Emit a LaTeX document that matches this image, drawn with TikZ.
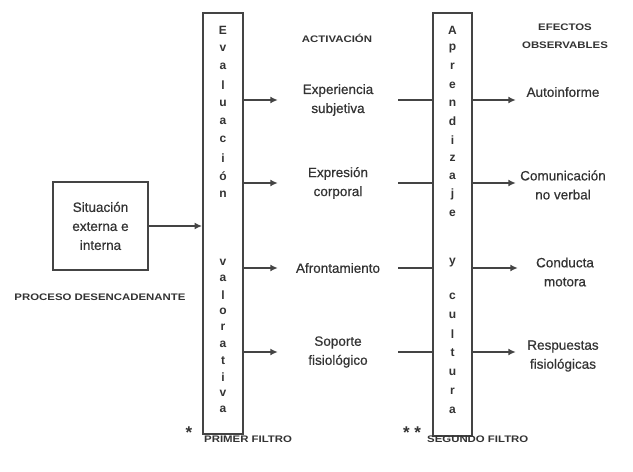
\documentclass[tikz,border=0pt]{standalone}
\usepackage{fontspec}
\setmainfont{Liberation Sans}
\newfontfamily\hdrfont[FakeStretch=1.2]{Liberation Sans}
\newfontfamily\lblfont[FakeBold=0.6]{Liberation Sans}
\usetikzlibrary{arrows.meta}
\definecolor{ink}{HTML}{333333}
\definecolor{edge}{HTML}{444444}
\begin{document}
\begin{tikzpicture}[x=1pt,y=-1pt,
  box/.style={draw=edge,line width=1.9pt,inner sep=0pt},
  lbl/.style={text=ink,font=\lblfont\fontsize{13.5}{19}\selectfont,align=center,inner sep=0pt},
  hdr/.style={text=ink,font=\hdrfont\bfseries\fontsize{9.5}{18}\selectfont,align=center,inner sep=0pt},
  vlet/.style={text=ink,font=\bfseries\fontsize{12}{12}\selectfont,inner sep=0pt},
  arr/.style={draw=edge,line width=1.8pt,-{Latex[length=7.5pt,width=7pt]}},
  ln/.style={draw=edge,line width=1.8pt}]
\useasboundingbox (0,0) rectangle (633,472);
% left box
\node[box,lbl,minimum width=95pt,minimum height=88pt] (sit) at (100.5,226) {Situación\\externa e\\interna};
\node[hdr] (proc) at (100,297) {PROCESO DESENCADENANTE};
% Evaluacion valorativa
\node[box,minimum width=40pt,minimum height=421pt] (eval) at (223,223.5) {};
\foreach \c [count=\i] in {E,v,a,l,u,a,c,i,ó,n}
  \node[vlet] at (223,{30+18.3*(\i-1)}) {\c};
\foreach \c [count=\i] in {v,a,l,o,r,a,t,i,v,a}
  \node[vlet] at (223,{262+16.4*(\i-1)}) {\c};
% Aprendizaje y cultura
\node[box,minimum width=39pt,minimum height=423pt] (apr) at (452.5,224.5) {};
\foreach \c [count=\i] in {A,p,r,e,n,d,i,z,a,j,e}
  \node[vlet] at (452.5,{30+18.3*(\i-1)}) {\c};
\node[vlet] at (452.5,263) {y};
\foreach \c [count=\i] in {c,u,l,t,u,r,a}
  \node[vlet] at (452.5,{296+19*(\i-1)}) {\c};
% headers
\node[hdr] (act) at (337,38) {ACTIVACIÓN};
\node[hdr] (efe) at (565,36) {EFECTOS\\OBSERVABLES};
% middle column
\node[lbl,minimum width=120pt] (m1) at (338,100) {Experiencia\\subjetiva};
\node[lbl,minimum width=120pt] (m2) at (338,183) {Expresión\\corporal};
\node[lbl,minimum width=120pt] (m3) at (338,268) {Afrontamiento};
\node[lbl,minimum width=120pt] (m4) at (338,352) {Soporte\\fisiológico};
% right column
\node[lbl,minimum width=94pt] (r1) at (563,92) {Autoinforme};
\node[lbl,minimum width=94pt] (r2) at (563,185) {Comunicación\\no verbal};
\node[lbl,minimum width=94pt] (r3) at (565,272) {Conducta\\motora};
\node[lbl,minimum width=94pt] (r4) at (563,356) {Respuestas\\fisiológicas};
% connectors
\draw[arr] (sit.east) -- (sit.east -| eval.west);
\foreach \m/\r in {m1/r1,m2/r2,m3/r3,m4/r4}{
  \draw[arr] (eval.east |- \m) -- (\m.west);
  \draw[ln] (\m.east) -- (\m.east -| apr.west);
  \draw[arr] (apr.east |- \m) -- (\r.west |- \m);
}
% footer
\node[text=ink,font=\bfseries\fontsize{17}{17}\selectfont,inner sep=0pt] (s1) at (189,433) {*};
\node[hdr,anchor=west] (f1) at (204,439) {PRIMER FILTRO};
\node[text=ink,font=\bfseries\fontsize{17}{17}\selectfont,inner sep=0pt] (s2) at (412,433) {* *};
\node[hdr,anchor=west] (f2) at (427,439) {SEGUNDO FILTRO};
\end{tikzpicture}
\end{document}
